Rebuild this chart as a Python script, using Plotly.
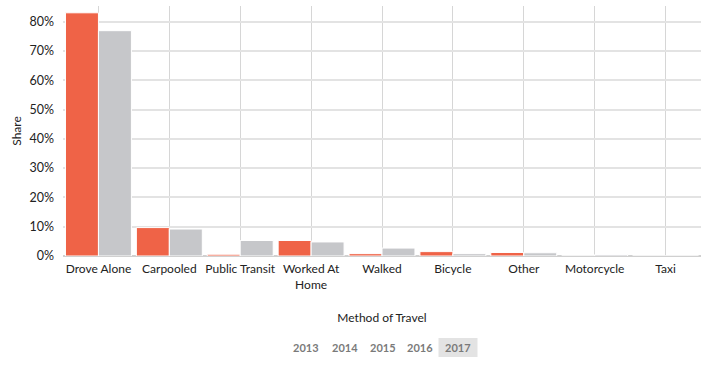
import plotly.graph_objects as go

categories = ["Drove Alone", "Carpooled", "Public Transit", "Worked At<br>Home", "Walked",
              "Bicycle", "Other", "Motorcycle", "Taxi"]
local_share = [83.0, 9.7, 0.6, 5.3, 0.8, 1.5, 1.2, 0.0, 0.0]
us_share = [76.9, 9.2, 5.3, 4.8, 2.7, 0.8, 1.1, 0.5, 0.0]
years = ["2013", "2014", "2015", "2016", "2017"]
active_year = "2017"

W, H = 707, 366
L, R, T, B = 63, 6, 6, 110
pw, ph = W - L - R, H - T - B

def px(x):
    return (x - L) / pw

def py(y):
    return (H - B - y) / ph

fig = go.Figure()
fig.add_trace(go.Bar(x=categories, y=local_share, name="Local",
                     marker=dict(color="#EF6347", line=dict(color="white", width=1))))
fig.add_trace(go.Bar(x=categories, y=us_share, name="United States",
                     marker=dict(color="#C6C7CA", line=dict(color="white", width=1))))

font = "Lato, 'Open Sans', sans-serif"
fig.update_layout(
    width=W, height=H,
    margin=dict(l=L, r=R, t=T, b=B, autoexpand=False),
    barmode="group", bargap=0.07, bargroupgap=0,
    plot_bgcolor="white", paper_bgcolor="white",
    showlegend=False,
    font=dict(family=font, size=12, color="#333"),
    xaxis=dict(showgrid=True, gridcolor="#D6D6D6", gridwidth=1, ticks="", automargin=False,
               tickfont=dict(size=12, color="#222"), ticklabelstandoff=4,
               title=dict(text="Method of Travel", font=dict(size=12, color="#222"), standoff=23)),
    yaxis=dict(range=[0, 250 / 2.93], showgrid=True, gridcolor="#E3E3E3", gridwidth=2, ticksuffix="%",
               dtick=10, tickfont=dict(size=12.5, color="#222"), automargin=False, ticklabelstandoff=8,
               zeroline=True, zerolinecolor="#D0D0D0", zerolinewidth=2,
               title=dict(text="Share", font=dict(size=12, color="#222"), standoff=5)),
)

centers = [306, 344.5, 382.5, 420.5, 458]
for yr, cx in zip(years, centers):
    if yr == active_year:
        fig.add_shape(type="rect", xref="paper", yref="paper", x0=px(cx - 19.5), x1=px(cx + 19.5),
                      y0=py(357), y1=py(338), fillcolor="#E3E3E3", line=dict(width=0), layer="below")
    fig.add_annotation(text="<b>" + yr + "</b>", xref="paper", yref="paper", x=px(cx), y=py(348),
                       showarrow=False, font=dict(size=11, color="#7A7A7A", family=font),
                       xanchor="center", yanchor="middle")

fig.write_html("out.html", config={"displayModeBar": False},
               post_script="document.body.style.margin='0';")
